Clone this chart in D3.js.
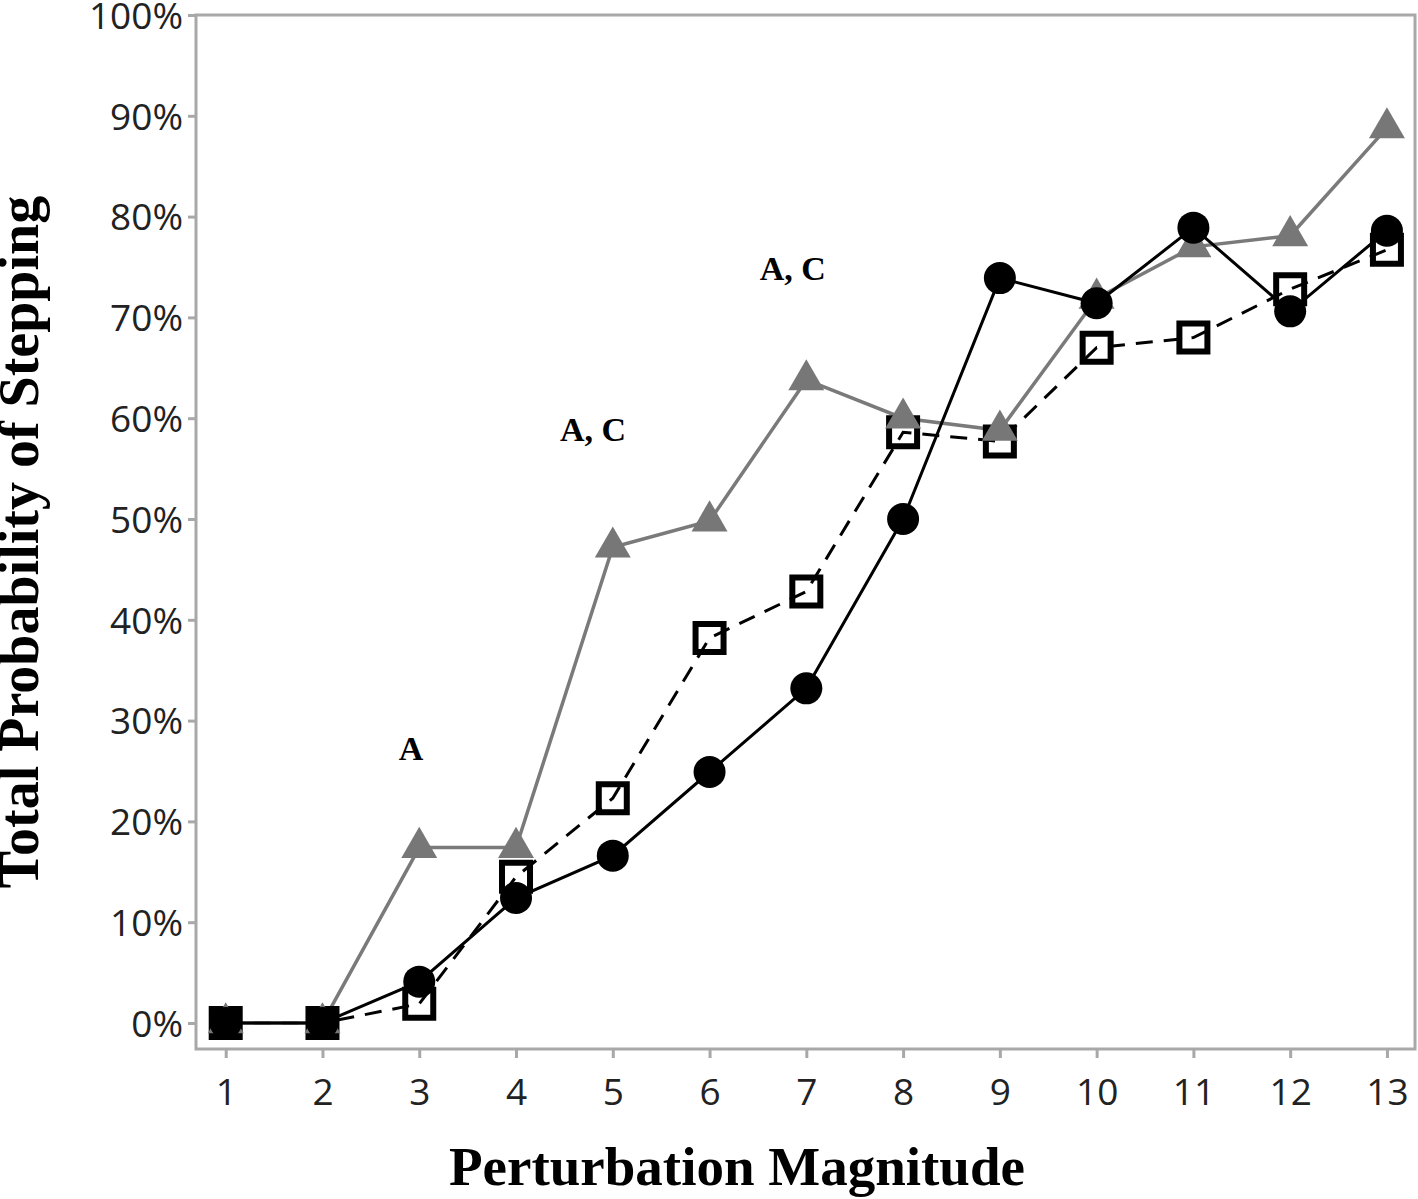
<!DOCTYPE html>
<html>
<head>
<meta charset="utf-8">
<script src="https://cdn.jsdelivr.net/npm/d3@7"></script>
<style>
  body { margin: 0; background: #fff; }
</style>
</head>
<body>
<div id="wrapper"></div>
<script>
// data
const magnitudes = [1, 2, 3, 4, 5, 6, 7, 8, 9, 10, 11, 12, 13]
const circleSeries = [0, 0, 0.041, 0.124, 0.166, 0.249, 0.332, 0.50, 0.739, 0.714, 0.789, 0.706, 0.786]
const squareSeries = [0, 0, 0.019, 0.145, 0.223, 0.382, 0.428, 0.586, 0.577, 0.670, 0.680, 0.728, 0.767]
const triangleSeries = [0, 0, 0.174, 0.174, 0.472, 0.498, 0.638, 0.600, 0.588, 0.719, 0.770, 0.781, 0.888]
const yTicks = [0, 0.1, 0.2, 0.3, 0.4, 0.5, 0.6, 0.7, 0.8, 0.9, 1.0]
const notes = [
  { x: 2.914, y: 0.261, text: "A" },
  { x: 4.795, y: 0.577, text: "A, C" },
  { x: 6.86, y: 0.737, text: "A, C" },
]

let dimensions = {
  width: 1418,
  height: 1199,
  margins: { top: 15, right: 3, bottom: 150, left: 196 },
}
dimensions.boundedWidth = dimensions.width - dimensions.margins.left - dimensions.margins.right
dimensions.boundedHeight = dimensions.height - dimensions.margins.top - dimensions.margins.bottom

const wrapper = d3.select("#wrapper")
  .append("svg")
  .attr("width", dimensions.width)
  .attr("height", dimensions.height)

const bounds = wrapper.append("g")
  .attr("transform", `translate(${dimensions.margins.left},${dimensions.margins.top})`)

// scales
const xScale = d3.scaleLinear()
  .domain([0.693, 13.29])
  .range([0, dimensions.boundedWidth])

const yScale = d3.scaleLinear()
  .domain([-0.0258, 1.0])
  .range([dimensions.boundedHeight, 0])

// frame
bounds.append("rect")
  .attr("x", 0).attr("y", 0)
  .attr("width", dimensions.boundedWidth)
  .attr("height", dimensions.boundedHeight)
  .attr("fill", "none")
  .attr("stroke", "#a8a8a8")
  .attr("stroke-width", 3)

// axes
const yAxis = d3.axisLeft(yScale)
  .tickValues(yTicks)
  .tickFormat(d3.format(".0%"))
  .tickSize(8)
  .tickPadding(5)
const xAxis = d3.axisBottom(xScale)
  .tickValues(magnitudes)
  .tickSize(9)
  .tickPadding(21)

const yAxisG = bounds.append("g").call(yAxis)
const xAxisG = bounds.append("g")
  .attr("transform", `translate(0,${dimensions.boundedHeight})`)
  .call(xAxis)

;[yAxisG, xAxisG].forEach(g => {
  g.select(".domain").remove()
  g.selectAll(".tick line").attr("stroke", "#a8a8a8").attr("stroke-width", 3)
  g.selectAll(".tick text")
    .attr("fill", "#222")
    .style("font-family", "'Open Sans', 'Noto Sans', sans-serif")
    .style("font-size", "37px")
})
yAxisG.selectAll(".tick text").attr("dy", "0.36em")

// lines
const lineGen = vals => d3.line()
  .x((d, i) => xScale(magnitudes[i]))
  .y(d => yScale(d))(vals)

bounds.append("path")
  .attr("d", lineGen(squareSeries))
  .attr("fill", "none")
  .attr("stroke", "#000")
  .attr("stroke-width", 3)
  .attr("stroke-dasharray", "17,11")

bounds.append("path")
  .attr("d", lineGen(triangleSeries))
  .attr("fill", "none")
  .attr("stroke", "#7a7a7a")
  .attr("stroke-width", 3.5)

bounds.append("path")
  .attr("d", lineGen(circleSeries))
  .attr("fill", "none")
  .attr("stroke", "#000")
  .attr("stroke-width", 3)

// markers
bounds.append("g").selectAll("path")
  .data(squareSeries)
  .join("path")
  .attr("transform", (d, i) => `translate(${xScale(magnitudes[i])},${yScale(d)})`)
  .attr("d", d3.symbol(d3.symbolSquare, 28 * 28))
  .attr("fill", "none")
  .attr("stroke", "#000")
  .attr("stroke-width", 6)

bounds.append("g").selectAll("path")
  .data(triangleSeries)
  .join("path")
  .attr("transform", (d, i) => `translate(${xScale(magnitudes[i])},${yScale(d)})`)
  .attr("d", d3.symbol(d3.symbolTriangle, 560))
  .attr("fill", "#777")

bounds.append("g").selectAll("circle")
  .data(circleSeries)
  .join("circle")
  .attr("cx", (d, i) => xScale(magnitudes[i]))
  .attr("cy", d => yScale(d))
  .attr("r", 16)
  .attr("fill", "#000")

// significance notes
bounds.append("g").selectAll("text")
  .data(notes)
  .join("text")
  .attr("x", d => xScale(d.x))
  .attr("y", d => yScale(d.y))
  .attr("text-anchor", "middle")
  .style("font-family", "'Liberation Serif', 'DejaVu Serif', serif")
  .style("font-weight", "bold")
  .style("font-size", "34px")
  .text(d => d.text)

// axis titles
wrapper.append("text")
  .attr("x", 737)
  .attr("y", 1185)
  .attr("text-anchor", "middle")
  .style("font-family", "'Liberation Serif', 'DejaVu Serif', serif")
  .style("font-weight", "bold")
  .style("font-size", "55px")
  .text("Perturbation Magnitude")

wrapper.append("text")
  .attr("transform", `translate(38,542) rotate(-90)`)
  .attr("text-anchor", "middle")
  .style("font-family", "'Liberation Serif', 'DejaVu Serif', serif")
  .style("font-weight", "bold")
  .style("font-size", "56px")
  .text("Total Probability of  Stepping")
</script>
</body>
</html>
